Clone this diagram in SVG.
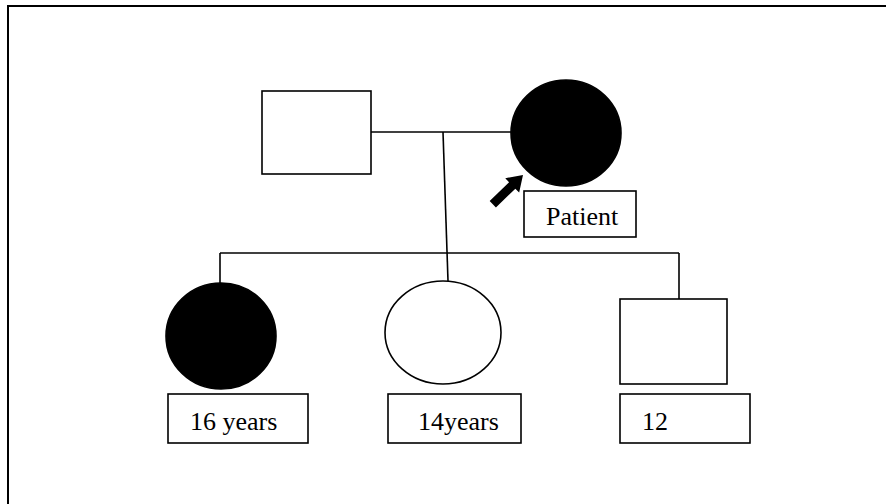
<svg xmlns="http://www.w3.org/2000/svg" width="886" height="504" viewBox="0 0 886 504">
<style>
.sym{stroke:#000;stroke-width:1.6;fill:#fff}
.aff{stroke:#000;stroke-width:1.6;fill:#000}
.lbl{stroke:#000;stroke-width:1.6;fill:#fff}
.ln{stroke:#000;stroke-width:1.6;fill:none}
text{font-family:"Liberation Serif","Times New Roman",serif;font-size:26px;fill:#000}
</style>
<rect x="0" y="0" width="886" height="504" fill="#fff"/>
<path d="M8,504 V6 H886" fill="none" stroke="#000" stroke-width="2"/>
<g id="connectors">
<line class="ln" x1="371" y1="132" x2="511" y2="132"/>
<line class="ln" x1="443" y1="132" x2="448" y2="281"/>
<line class="ln" x1="220" y1="253" x2="679" y2="253"/>
<line class="ln" x1="220" y1="253" x2="220" y2="283"/>
<line class="ln" x1="679" y1="253" x2="679" y2="299"/>
<polygon points="0,0 -15,-10 -15,-4.5 -42,-4.5 -42,4.5 -15,4.5 -15,10" fill="#000" transform="translate(523,175) rotate(-44)"/>
</g>
<g id="father"><rect class="sym" x="262" y="91" width="109" height="83"/></g>
<g id="mother"><ellipse class="aff" cx="566" cy="133" rx="55" ry="53"/></g>
<g id="patient-label"><rect class="lbl" x="524" y="191" width="112" height="46"/><text x="546" y="225">Patient</text></g>
<g id="daughter16"><ellipse class="aff" cx="221" cy="336" rx="55" ry="53"/></g>
<g id="label16"><rect class="lbl" x="168" y="394" width="140" height="49"/><text x="190" y="430">16 years</text></g>
<g id="daughter14"><ellipse class="sym" cx="443" cy="332.5" rx="58" ry="51.5"/></g>
<g id="label14"><rect class="lbl" x="388" y="394" width="133" height="49"/><text x="418" y="430">14years</text></g>
<g id="son12"><rect class="sym" x="620" y="299" width="107" height="85"/></g>
<g id="label12"><rect class="lbl" x="620" y="394" width="130" height="49"/><text x="642" y="430">12</text></g>
</svg>
